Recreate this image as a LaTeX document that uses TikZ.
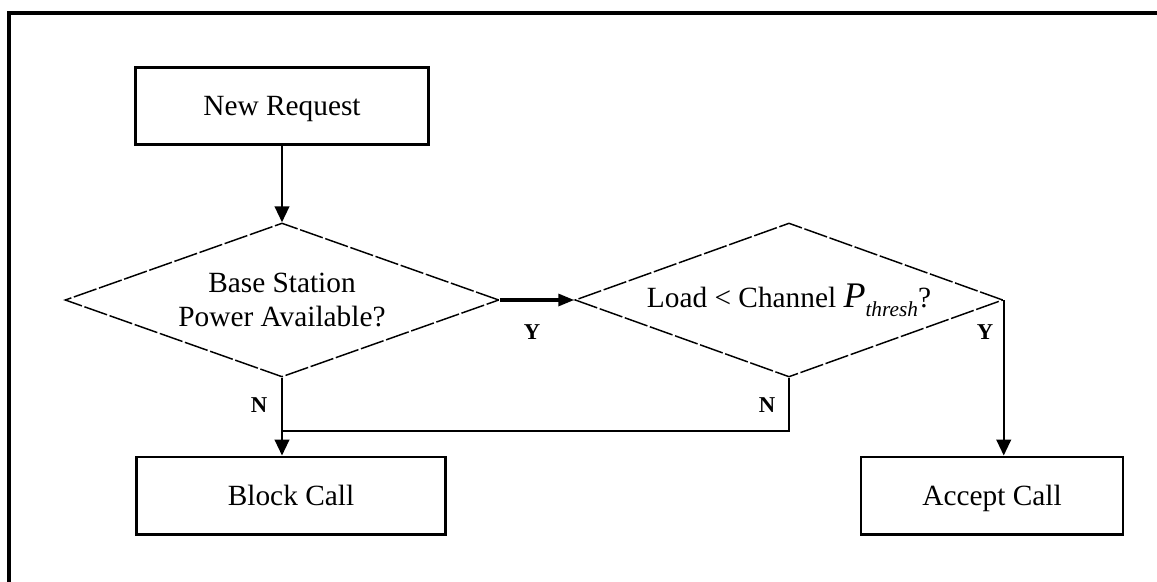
\documentclass[tikz,border=0pt]{standalone}
\usepackage{fontspec}
\setmainfont{Liberation Serif}
\usetikzlibrary{shapes.geometric,arrows.meta}

\begin{document}
\begin{tikzpicture}[x=0.75pt,y=-0.75pt]
\tikzstyle{every node}+=[inner sep=0pt]
\tikzstyle{procbox}=[draw=black,line width=2pt,rectangle,minimum height=58pt,text height=15.5pt,text depth=1pt,font=\fontsize{22}{25}\selectfont]
\tikzstyle{decision}=[draw=black,line width=1.1pt,dash pattern=on 18pt off 2pt,diamond,aspect=2.8,minimum height=115.5pt,align=center,font=\fontsize{22}{25}\selectfont]
\tikzstyle{branch}=[font=\fontsize{17}{20}\selectfont\bfseries]
\tikzstyle{flow}=[draw=black,line width=1.6pt,-{Triangle[length=12pt,width=11pt]}]
\useasboundingbox (0,0) rectangle (1157,582);
\draw [black,line width=2.6pt] (9,582) -- (9,13) -- (1157,13);
\node [procbox,minimum width=220pt] (req) at (282,106) {New Request};
\node [decision,minimum width=325.5pt] (bs) at (282,300) {Base Station\\Power Available?};
\node [decision,minimum width=321pt] (ld) at (789,300) {Load < Channel {\fontsize{27}{30}\selectfont\itshape P}\raisebox{-0.3em}{\fontsize{16}{18}\selectfont\itshape thresh}?};
\node [procbox,minimum width=232pt] (blk) at (291,495.5) {Block Call};
\node [procbox,minimum width=196.5pt] (acc) at (992,495.5) {Accept Call};
\node [branch] (y1) at (532,332) {Y};
\node [branch] (y2) at (985,332) {Y};
\node [branch] (n1) at (259,405) {N};
\node [branch] (n2) at (767,405) {N};
\coordinate (jy) at (0,431);
\draw [flow] (req.south) -- (bs.north);
\draw [flow,line width=2.4pt,-{Triangle[length=12pt,width=9pt]}] (bs.east) -- (ld.west);
\draw [flow] (bs.south) -- (bs.south |- blk.north);
\draw [black,line width=1.6pt] (ld.south) |- (bs.south |- jy);
\draw [flow] (ld.east) -- (ld.east |- acc.north);
\end{tikzpicture}
\end{document}
